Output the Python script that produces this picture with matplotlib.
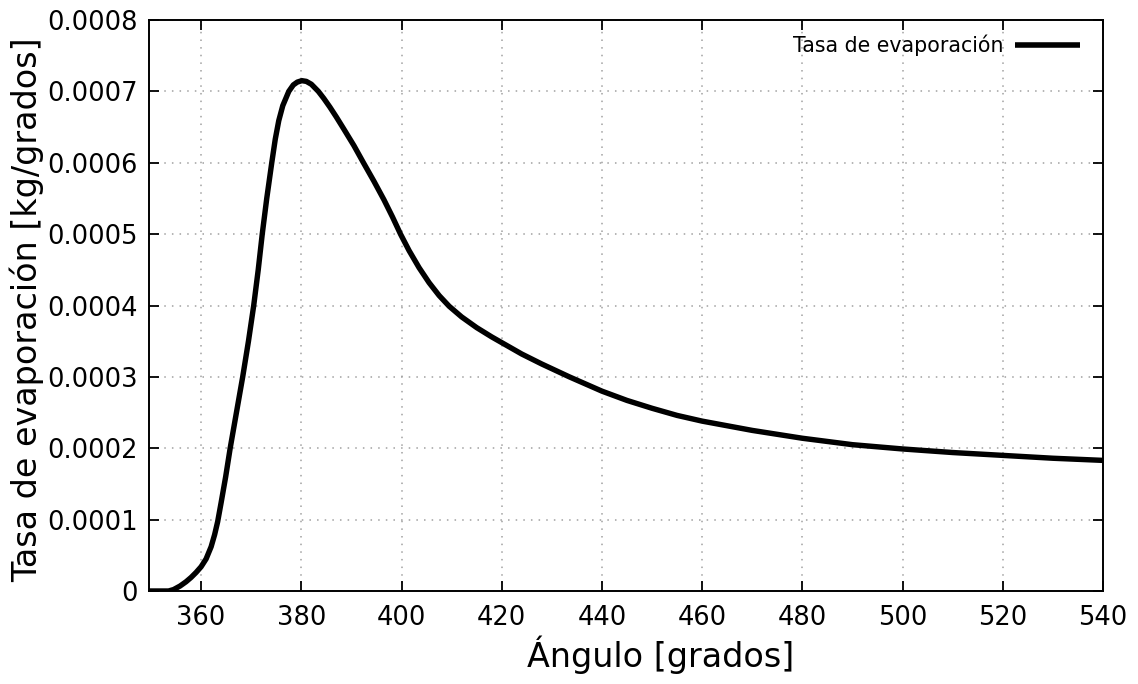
import matplotlib
matplotlib.use("Agg")
import matplotlib.pyplot as plt
from matplotlib.ticker import FixedLocator, FixedFormatter

angle = [349.6, 353.5, 354.5, 355.8, 357.0, 358.0, 359.0, 360.0, 361.0, 362.0,
         362.7, 363.3, 364.0, 364.9, 365.8, 367.05, 368.3, 369.45, 370.5, 371.4,
         372.2, 373.1, 374.1, 374.8, 375.5, 376.3, 377.5, 378.4, 379.2, 380.1,
         381.0, 382.0, 383.4, 384.5, 385.7, 387.0, 388.5, 390.5, 392.4, 394.5,
         396.5, 398.2, 399.8, 401.5, 403.5, 405.5, 407.5, 409.5, 412.0, 415.0,
         418.0, 420.0, 424.0, 428.0, 433.5, 440.0, 445.0, 450.0, 455.0, 460.0,
         470.0, 480.0, 490.0, 500.0, 510.0, 520.0, 530.0, 540.0]
rate = [0.0, 0.0, 0.000002, 0.000007, 0.000013, 0.000019, 0.000026, 0.000034, 0.000045, 0.000062,
        0.000079, 0.000097, 0.000124, 0.00016, 0.0002, 0.00025, 0.0003, 0.00035, 0.0004, 0.00045,
        0.0005, 0.00055, 0.0006, 0.000633, 0.000659, 0.00068, 0.0007, 0.000709, 0.000713, 0.000715,
        0.000714, 0.00071, 0.0007, 0.00069, 0.000678, 0.000664, 0.000647, 0.000624, 0.0006, 0.000574,
        0.000548, 0.000524, 0.0005, 0.000477, 0.000453, 0.000432, 0.000414, 0.000399, 0.000384, 0.000369,
        0.000356, 0.000348, 0.000332, 0.000318, 0.0003, 0.00028, 0.000267, 0.000256, 0.000246, 0.000238,
        0.000225, 0.000214, 0.000205, 0.000199, 0.000194, 0.00019, 0.000186, 0.000183]

x_ticks = [360, 380, 400, 420, 440, 460, 480, 500, 520, 540]
y_ticks = [0, 0.0001, 0.0002, 0.0003, 0.0004, 0.0005, 0.0006, 0.0007, 0.0008]
y_tick_labels = ["0", "0.0001", "0.0002", "0.0003", "0.0004", "0.0005", "0.0006", "0.0007", "0.0008"]

plt.rcParams['font.family'] = ['DejaVu Sans']

fig = plt.figure(figsize=(11.38, 6.84), dpi=100)
ax = fig.add_axes([149/1138, 1 - 591/684, (1103 - 149)/1138, (591 - 20)/684])

ax.plot(angle, rate, color='black', lw=3.9, solid_capstyle='butt', solid_joinstyle='round',
        label='Tasa de evaporación', zorder=3)

ax.set_xlim(349.6, 540)
ax.set_ylim(0, 0.0008)
ax.xaxis.set_major_locator(FixedLocator(x_ticks))
ax.yaxis.set_major_locator(FixedLocator(y_ticks))
ax.yaxis.set_major_formatter(FixedFormatter(y_tick_labels))

ax.grid(True, color='#a0a0a0', linestyle=(0, (1, 4.0)), lw=1.1, zorder=1)
ax.tick_params(direction='in', length=7, width=1.3, top=True, right=True,
               labelsize=18.5, pad=8, colors='black')
ax.tick_params(axis='x', pad=10)
for s in ax.spines.values():
    s.set_linewidth(1.4)
    s.set_color('black')

ax.set_xlabel('Ángulo [grados]', fontsize=24)
ax.xaxis.set_label_coords((661 - 149)/954, (591 - 636)/571)
ax.set_ylabel('Tasa de evaporación [kg/grados]', fontsize=24)
ax.yaxis.set_label_coords((44 - 149)/954, (591 - 310)/571)

leg = ax.legend(loc='center right', frameon=False, fontsize=14.8, markerfirst=False,
                handlelength=3.16, handletextpad=0.58, borderaxespad=0.0, borderpad=0.0,
                bbox_to_anchor=((1080 - 149)/954, (591 - 45)/571))
for l in leg.get_lines():
    l.set_linewidth(4)

fig.savefig('out.png', dpi=100)
